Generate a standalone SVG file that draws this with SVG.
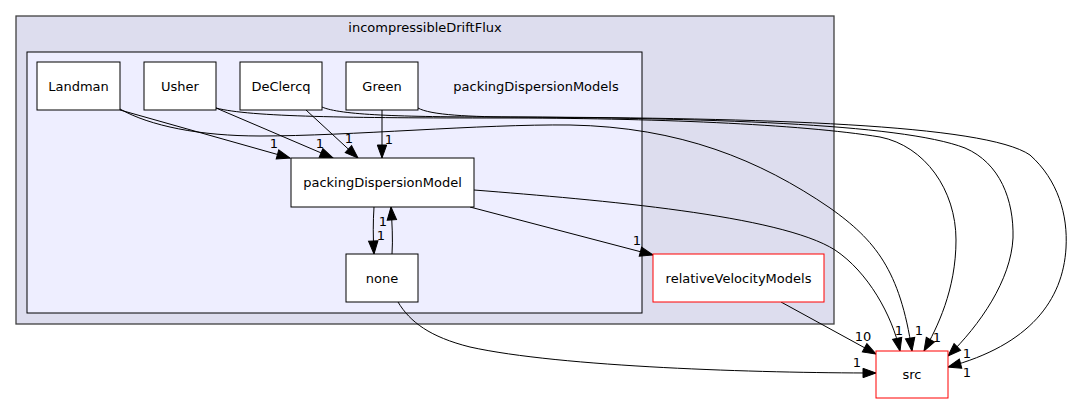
<svg xmlns="http://www.w3.org/2000/svg" width="1072" height="404" viewBox="0 0 1072 404">
<style>
text{font-family:"DejaVu Sans","Liberation Sans",sans-serif;font-size:13px;fill:#000}
.lbl{text-anchor:middle}
.node{fill:#fff;stroke:#000;stroke-width:1}
.rnode{fill:#fff;stroke:#ff0000;stroke-width:1}
.edge{fill:none;stroke:#000;stroke-width:1;marker-end:url(#arr)}
</style>
<defs>
<marker id="arr" markerUnits="userSpaceOnUse" markerWidth="13" markerHeight="10" viewBox="0 0 13 10" refX="13" refY="5" orient="auto" overflow="visible">
<path d="M0,0.3 L13,5 L0,9.7 z" fill="#000" stroke="#000" stroke-width="1"/>
</marker>
</defs>
<rect width="1072" height="404" fill="#fff"/>
<g id="cluster_incompressibleDriftFlux">
<rect x="16" y="16" width="818" height="308" fill="#ddddee" stroke="#404040" stroke-width="1.3"/>
<text class="lbl" x="425" y="32">incompressibleDriftFlux</text>
</g>
<g id="cluster_packingDispersionModels">
<rect x="27" y="52" width="615" height="261" fill="#eeeeff" stroke="#000" stroke-width="1"/>
<text class="lbl" x="536" y="91">packingDispersionModels</text>
</g>
<g id="edges">
<path class="edge" d="M120,110 L290,158"/>
<path class="edge" d="M216,108 L333,158"/>
<path class="edge" d="M306,110 L358,158"/>
<path class="edge" d="M382,110 L382,158"/>
<path class="edge" d="M374,207 C373,222 373,237 374,254"/>
<path class="edge" d="M392,254 C393,240 392,222 391,207"/>
<path class="edge" d="M470,207 L653,255"/>
<path class="edge" d="M474,190 C600,200 780,215 835,250 C868,272 892,315 900,351"/>
<path class="edge" d="M398,302 C410,322 430,337 470,347 C560,367 760,373 876,373"/>
<path class="edge" d="M781,302 L876,354"/>
<path class="edge" d="M120,109 C150,126 200,136 260,136 C350,136 480,124 570,125 C680,127 760,160 830,208 C875,240 900,270 912,351"/>
<path class="edge" d="M216,108 C250,117 350,118 500,118 C650,118 800,124 880,137 C925,146 956,190 956,240 C956,290 937,328 924,351"/>
<path class="edge" d="M322,107 C340,115 400,117 500,117 C700,118 900,123 965,148 C1000,163 1014,200 1013,238 C1011,280 980,325 948,356"/>
<path class="edge" d="M418,108 C430,115 470,117 520,117 C760,118 985,124 1030,155 C1058,180 1068,215 1066,248 C1063,300 1030,345 948,367"/>
<text class="lbl" x="274" y="148">1</text>
<text class="lbl" x="320" y="148">1</text>
<text class="lbl" x="349" y="143">1</text>
<text class="lbl" x="389" y="144">1</text>
<text class="lbl" x="383" y="226">1</text>
<text class="lbl" x="381" y="240">1</text>
<text class="lbl" x="637" y="245">1</text>
<text class="lbl" x="899" y="335">1</text>
<text class="lbl" x="919" y="335">1</text>
<text class="lbl" x="937" y="342">1</text>
<text class="lbl" x="863" y="341">10</text>
<text class="lbl" x="857" y="367">1</text>
<text class="lbl" x="967" y="358">1</text>
<text class="lbl" x="967" y="377">1</text>
</g>
<g id="node_Landman">
<rect class="node" x="37" y="62" width="83" height="48"/>
<text class="lbl" x="78.5" y="90.5">Landman</text>
</g>
<g id="node_Usher">
<rect class="node" x="144" y="62" width="72" height="48"/>
<text class="lbl" x="180" y="90.5">Usher</text>
</g>
<g id="node_DeClercq">
<rect class="node" x="240" y="62" width="82" height="48"/>
<text class="lbl" x="281" y="90.5">DeClercq</text>
</g>
<g id="node_Green">
<rect class="node" x="346" y="62" width="72" height="48"/>
<text class="lbl" x="382" y="90.5">Green</text>
</g>
<g id="node_packingDispersionModel">
<rect class="node" x="291" y="158" width="183" height="49"/>
<text class="lbl" x="382.5" y="187">packingDispersionModel</text>
</g>
<g id="node_none">
<rect class="node" x="346" y="254" width="72" height="48"/>
<text class="lbl" x="382" y="282.5">none</text>
</g>
<g id="node_relativeVelocityModels">
<rect class="rnode" x="653" y="254" width="171" height="48"/>
<text class="lbl" x="738.5" y="282.5">relativeVelocityModels</text>
</g>
<g id="node_src">
<rect class="rnode" x="876" y="351" width="72" height="47"/>
<text class="lbl" x="912" y="379">src</text>
</g>
</svg>
